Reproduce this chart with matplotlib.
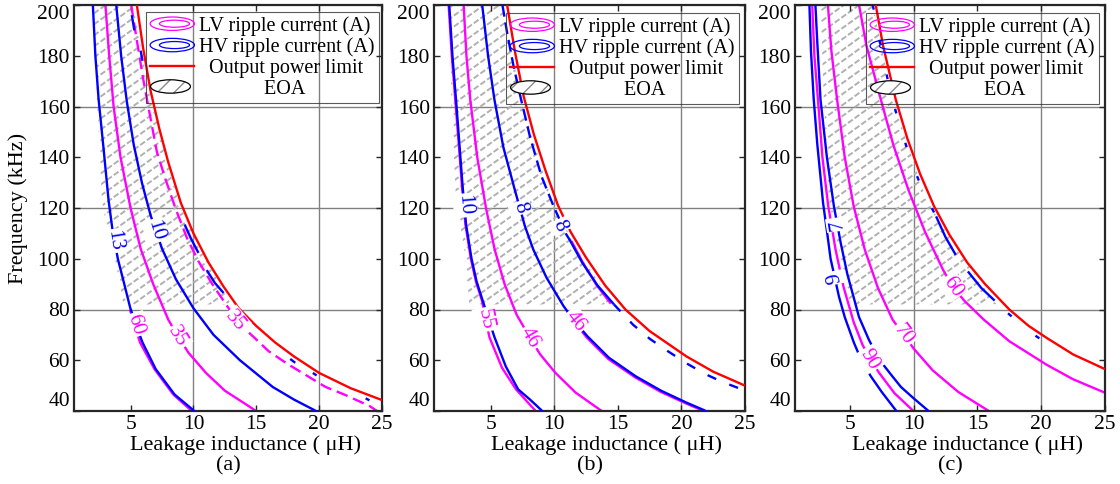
"""
Ripple-current contours vs leakage inductance / frequency, three designs.
"""

import numpy as np
import matplotlib
matplotlib.use("Agg")
import matplotlib.pyplot as plt
from matplotlib.patches import Ellipse, Polygon, Patch
from matplotlib.lines import Line2D
from matplotlib.legend_handler import HandlerBase
from matplotlib.collections import LineCollection

plt.rcParams["font.family"] = ["Liberation Serif", "DejaVu Serif"]

BLUE, MAGENTA, RED = "#0000ff", "#ff00ff", "#ff0000"
LW = 1.7
TICK_FS, LABEL_FS, LEG_FS, AXLAB_FS = 15.5, 15, 14.5, 16

# ---- panel (a) -------------------------------------------------
A_RED_L = [5.5, 6.0, 6.6, 7.3, 8.0, 9.0, 10.0, 11.2, 12.4, 13.6, 15.0, 16.5, 18.0, 20.0, 22.5, 25.0]
A_RED_F = [200, 183, 166, 151, 138, 122, 110, 98.5, 89, 80.5, 73.5, 67, 61.5, 55, 49, 44.3]
A_HV13_L = [2.0, 2.2, 2.46, 2.86, 3.25, 3.6, 4.0, 4.5, 4.97, 5.5, 5.95, 7.0, 8.5, 10.0, 10.1]
A_HV13_F = [200, 180, 162.7, 143, 123, 110, 99.7, 90, 80.7, 73, 67, 56.5, 46.5, 40.3, 39.5]
A_HV10_L = [3.86, 4.25, 4.7, 5.25, 5.9, 6.6, 7.5, 8.6, 10.0, 11.6, 13.7, 16.3, 18.0, 19.6, 19.9]
A_HV10_F = [200, 180, 162, 145, 130, 117, 104, 92, 80.5, 70, 60, 49.5, 44.5, 40.4, 39.5]
A_LV35_L = [3.0, 3.3, 3.65, 4.2, 5.0, 5.8, 6.8, 8.0, 8.8, 9.6, 11.0, 12.5, 14.9, 15.2]
A_LV35_F = [200, 180, 160, 140, 120, 104, 90, 76, 69.2, 63, 55, 48, 40.3, 39.5]
A_LV60_L = [4.95, 5.3, 5.75, 6.9, 8.4, 9.8, 9.9]
A_LV60_F = [80, 74, 67, 56.5, 46.5, 40.3, 39.5]
A_LV35E_L = [5.05, 5.5, 6.0, 6.6, 7.1, 7.8, 8.6, 9.5, 10.4, 11.5, 12.8, 13.4, 14.5, 16.0, 17.5, 19.0, 20.5, 22.0, 24.0, 24.6]
A_LV35E_F = [200, 186, 171, 155, 142, 131, 119.5, 108, 99, 90, 80.5, 76, 70.5, 63.5, 58.5, 54, 49.5, 46.5, 42, 40]
A_HVE_L = [[5.1, 5.3], [5.8, 5.95], [9.3, 9.8, 10.4], [11.06, 11.7, 12.4], [17.7, 18.1], [19.5, 19.8], [23.7, 24.0]]
A_HVE_F = [[196, 190], [182, 178], [113.5, 108, 102.3], [95.5, 90.5, 86.5], [60.5, 59], [55, 54], [45, 44.2]]
A_HATCH_F = [200, 162.7, 123, 110, 99.7, 82]
A_HATCH_LEFT = [2.1, 2.33, 2.72, 3.2, 3.78, 4.44]
A_HATCH_RIGHT = [5.2, 6.6, 8.8, 9.9, 11.0, 13.0]

# ---- panel (b) -------------------------------------------------
B_RED_L = [6.3, 6.9, 7.6, 8.4, 9.3, 10.3, 11.3, 12.5, 14.0, 15.6, 17.5, 20.4, 22.5, 25.0]
B_RED_F = [200, 182, 164, 149, 135, 121, 110.5, 100.5, 89.5, 80, 71.5, 61.5, 55.5, 50]
B_HV10_L = [1.75, 2.0, 2.28, 2.55, 2.8, 3.07, 3.5, 3.9, 4.39, 4.85, 5.32, 6.2, 7.17, 8.1, 9.0, 9.1]
B_HV10_F = [200, 180, 162.7, 145, 128.5, 113.5, 100, 91, 83.3, 76, 68.9, 57.5, 48.5, 44.5, 40.3, 39.5]
B_LV55_L = [1.7, 1.95, 2.22, 2.5, 2.75, 3.02, 3.45, 3.85, 4.33, 4.6, 4.92, 5.9, 7.0, 8.49, 8.6]
B_LV55_F = [200, 180, 162.7, 145, 128.5, 113.5, 100, 91, 83.3, 76, 68.9, 57, 48.5, 40.3, 39.5]
B_HV8_L = [4.34, 4.8, 5.3, 6.0, 6.9, 7.7, 8.36, 9.4, 10.74, 11.6, 12.6, 14.3, 16.4, 18.4, 20.4, 21.8, 22.0]
B_HV8_F = [200, 180, 162.7, 144, 127.2, 112.8, 103.6, 92.5, 81.3, 75.4, 69.5, 61, 53.7, 48, 43.3, 40.3, 39.7]
B_LV46B_L = [11.0, 11.6, 12.55, 14.25, 16.35, 18.35, 20.35, 21.7, 21.9]
B_LV46B_F = [79.0, 75.0, 69.0, 60.5, 53.3, 47.6, 43.0, 40.1, 39.5]
B_LV46_L = [2.88, 3.1, 3.4, 3.95, 4.66, 5.32, 6.1, 7.04, 8.1, 8.9, 10.1, 11.67, 13.65, 13.9]
B_LV46_F = [200, 180, 162.7, 140, 119.4, 103.6, 90, 78, 68.8, 62.3, 55, 47.3, 40.3, 39.6]
B_HVE_UP_L = [5.93, 6.3, 6.8, 7.4, 8.1, 9.0, 9.95, 10.6]
B_HVE_UP_F = [200, 189, 176, 162.7, 148, 132.5, 120.7, 113.5]
B_HVE_MID_L = [10.9, 11.27, 12.2, 13.4, 14.7]
B_HVE_MID_F = [110, 107, 98.5, 89.5, 82]
B_HVE_LOW_L = [14.7, 16.2, 17.5, 18.8, 20.5, 21.9, 23.2, 24.4, 25.0]
B_HVE_LOW_F = [82, 74, 68.5, 64, 58.5, 54.5, 51.5, 49.2, 48]
B_LVE_L = [11.35, 12.25, 13.35, 14.45]
B_LVE_F = [107, 98.5, 89.5, 82.3]
B_HATCH_F = [200, 162.7, 123, 103.6, 84, 82]
B_HATCH_LEFT = [1.85, 1.9, 2.28, 2.94, 3.3, 3.3]
B_HATCH_RIGHT = [6.0, 7.4, 9.8, 11.8, 14.4, 14.6]

# ---- panel (c) -------------------------------------------------
C_RED_L = [7.03, 7.6, 8.6, 9.5, 10.5, 11.6, 12.8, 14.2, 15.6, 17.5, 19.0, 20.4, 22.5, 25.0]
C_RED_F = [200, 184, 162.7, 147.5, 133.5, 120.7, 109.5, 98.5, 90, 80, 73.6, 68.9, 62.3, 56.5]
C_HV9_L = [1.83, 1.95, 2.17, 2.45, 2.9, 3.2, 3.49, 3.8, 4.14, 4.6, 5.32, 5.9, 6.64, 7.5, 8.6, 8.7]
C_HV9_F = [200, 182, 162.7, 145, 122, 111, 100, 93, 85.2, 77, 66.9, 60, 53.7, 47.5, 40.3, 39.6]
C_LV90_L = [2.05, 2.22, 2.5, 2.85, 3.3, 3.88, 4.5, 5.3, 6.0, 6.6, 7.3, 8.5, 9.92, 10.0]
C_LV90_F = [200, 180, 162.7, 140, 121, 103.6, 89, 75, 66, 60.5, 55, 47, 40.3, 39.6]
C_HV7_L = [2.3, 2.45, 2.7, 3.2, 3.75, 4.28, 4.8, 5.72, 6.5, 7.3, 8.2, 9.0, 10.0, 11.1, 11.2]
C_HV7_F = [200, 185, 162.7, 140, 120.7, 106.3, 94, 77, 68, 60.3, 54.5, 49.5, 45, 40.3, 39.7]
C_LV70_L = [3.28, 3.55, 4.0, 4.6, 5.3, 6.17, 7.2, 8.35, 9.2, 10.05, 11.5, 13.5, 15.8, 16.0]
C_LV70_F = [200, 182, 162.7, 140, 120.7, 103.6, 88.5, 76, 70.1, 64.3, 56, 47.5, 40.3, 39.7]
C_LV60_L = [5.72, 6.3, 7.43, 8.4, 9.6, 10.9, 12.3, 13.05, 14.0, 15.5, 17.5, 20.4, 22.5, 25.0]
C_LV60_F = [200, 184, 162.7, 145, 127, 110.5, 95.7, 89, 83.3, 76, 67.5, 58.3, 52.5, 47.2]
C_HVE_UP_L = [6.8, 7.2, 7.95, 8.6, 9.1, 9.5, 10.0, 10.7, 11.76]
C_HVE_UP_F = [200, 189, 171, 158, 150, 143, 136, 127, 116.7]
C_HVE_S1_L = [11.76, 12.5, 13.3]
C_HVE_S1_F = [116.7, 108.5, 101.5]
C_HVE_S2_L = [14.25, 15.3, 16.35]
C_HVE_S2_F = [95, 88.5, 83.5]
C_HVE_LOW_L = [17.4, 18.2, 19.6, 21.1]
C_HVE_LOW_F = [78.5, 75, 69.5, 64.5]
C_HATCH_F = [200, 162.7, 123.3, 103.6, 82]
C_HATCH_LEFT = [2.7, 2.96, 3.35, 4.14, 5.0]
C_HATCH_RIGHT = [6.8, 8.36, 11.0, 13.4, 16.5]

X_TICKS = [5, 10, 15, 20, 25]
Y_TICKS = [40, 60, 80, 100, 120, 140, 160, 180, 200]
X_GRID = [10, 20]
Y_GRID = [80, 120, 160]
PANEL_NAMES = ["(a)", "(b)", "(c)"]
LEGEND_LABELS = ["LV ripple current (A)", "HV ripple current (A)",
                 "  Output power limit", "             EOA"]

# layout in pixels of the 1120x484 canvas
W, H = 1120, 484
PANEL_PX = [(74, 382), (434, 745), (795, 1105)]
XMIN = [0.5, 0.55, 0.7]
TOP_PX, BOT_PX = 5, 411
LEG_OFF = [(3, 7), (6, 8), (6, 8)]

DASH = (0, (5, 2.5))
DOTS = (0, (2, 13))


class RingHandler(HandlerBase):
    """Legend icon: two nested ellipses (or a hatched one for the EOA)."""

    def __init__(self, color=None, hatched=False):
        super().__init__()
        self.color = color
        self.hatched = hatched

    def create_artists(self, legend, orig_handle, xdescent, ydescent,
                       width, height, fontsize, trans):
        cx = width / 2 - xdescent
        cy = height / 2 - ydescent
        if self.hatched:
            arts = [Ellipse((cx - 0.04 * width, cy), width * 0.9, height * 0.95,
                            facecolor="white", edgecolor="#8a8a8a", lw=0, hatch="//"),
                    Ellipse((cx - 0.04 * width, cy), width * 0.9, height * 0.95,
                            fill=False, edgecolor="black", lw=0.9)]
        else:
            arts = [Ellipse((cx, cy), width, height * 0.95, fill=False,
                            edgecolor=self.color, lw=0.9),
                    Ellipse((cx + 0.05 * width, cy), width * 0.68, height * 0.5,
                            fill=False, edgecolor=self.color, lw=0.9)]
        for a in arts:
            a.set_transform(trans)
        return arts


def curve(ax, xs, ys, color, ls="-", z=3):
    ax.plot(xs, ys, color=color, lw=LW, ls=ls, zorder=z,
            solid_capstyle="butt", dash_capstyle="butt")


def tangent_angle(ax, xs, ys, x0, y0):
    pts = ax.transData.transform(np.column_stack([xs, ys]))
    p0 = ax.transData.transform((x0, y0))
    i = int(np.argmin(np.hypot(*(pts - p0).T)))
    i0, i1 = max(i - 1, 0), min(i + 1, len(xs) - 1)
    dx, dy = pts[i1] - pts[i0]
    ang = np.degrees(np.arctan2(dy, dx))
    if ang > 90:
        ang -= 180
    elif ang <= -90:
        ang += 180
    return ang


def clabel(ax, text, x, y, color, xs, ys, flip=False):
    ang = tangent_angle(ax, xs, ys, x, y) + (180 if flip else 0)
    ax.text(x, y, text, color=color, fontsize=LABEL_FS, rotation=ang,
            rotation_mode="anchor", ha="center", va="center", zorder=6,
            bbox=dict(boxstyle="square,pad=0.08", fc="white", ec="none"))


def hatch_region(ax, left, right, fvals):
    verts = list(zip(left, fvals)) + list(zip(right[::-1], fvals[::-1]))
    poly = Polygon(verts, closed=True, fc="none", ec="none", transform=ax.transData)
    ax.add_patch(poly)
    bb = ax.get_window_extent()
    slope = 0.72 * bb.width / bb.height
    step = 11.0 / bb.height
    offs = np.arange(-slope - step, 1 + step, step)
    segs = [[(0, c), (1, c + slope)] for c in offs]
    lc = LineCollection(segs, transform=ax.transAxes, colors="#b0b0b0",
                        linewidths=1.4, linestyles=[(0, (3, 1.2))], zorder=1)
    ax.add_collection(lc, autolim=False)
    lc.set_clip_path(poly)


def style_axes(ax, k):
    ax.set_xlim(XMIN[k], 25)
    ax.set_ylim(40, 200)
    ax.set_xticks(X_TICKS)
    ax.set_yticks(Y_TICKS)
    ax.tick_params(direction="in", length=4, width=1, top=True, right=True,
                   labelsize=TICK_FS, pad=3, colors="#262626", labelcolor="black")
    for s in ax.spines.values():
        s.set_linewidth(1.6)
        s.set_color("#262626")
    for g in X_GRID:
        ax.axvline(g, color="#808080", lw=1.0, zorder=0.5)
    for g in Y_GRID:
        ax.axhline(g, color="#808080", lw=1.0, zorder=0.5)
    labs = ax.get_yticklabels()
    labs[0].set_va("bottom")
    labs[-1].set_va("top")
    w_px = PANEL_PX[k][1] - PANEL_PX[k][0]
    h_px = BOT_PX - TOP_PX
    ax.set_xlabel("Leakage inductance ( μH)", fontsize=AXLAB_FS)
    ax.xaxis.set_label_coords(0.5 + 17 / w_px, -34 / h_px)
    ax.xaxis.label.set_va("center")
    ax.text(0.5, -55 / h_px, PANEL_NAMES[k], transform=ax.transAxes,
            ha="center", va="center", fontsize=AXLAB_FS)

    handles = [Line2D([], [], color=MAGENTA), Line2D([], [], color=BLUE),
               Line2D([], [], color=RED, lw=LW), Patch()]
    hmap = {handles[0]: RingHandler(MAGENTA), handles[1]: RingHandler(BLUE),
            handles[3]: RingHandler(hatched=True)}
    dx, dy = LEG_OFF[k]
    leg = ax.legend(handles, LEGEND_LABELS, handler_map=hmap, loc="upper right",
                    bbox_to_anchor=(1 - dx / w_px, 1 - dy / h_px), borderaxespad=0,
                    fontsize=LEG_FS, handlelength=2.2, handleheight=0.7,
                    handletextpad=0.25, borderpad=0.2, labelspacing=0.08,
                    fancybox=False, edgecolor="#303030", facecolor="none")
    leg.get_frame().set_linewidth(0.8)
    leg.set_zorder(7)


fig = plt.figure(figsize=(W / 100, H / 100), dpi=100)
axes = []
for (l, r) in PANEL_PX:
    axes.append(fig.add_axes([l / W, 1 - BOT_PX / H, (r - l) / W, (BOT_PX - TOP_PX) / H]))
for k, ax in enumerate(axes):
    ax.set_xlim(XMIN[k], 25)
    ax.set_ylim(40, 200)

# (a)
ax = axes[0]
hatch_region(ax, A_HATCH_LEFT, A_HATCH_RIGHT, A_HATCH_F)
curve(ax, A_LV35_L, A_LV35_F, MAGENTA, z=2)
curve(ax, A_LV60_L, A_LV60_F, MAGENTA, z=2)
curve(ax, A_LV35E_L, A_LV35E_F, MAGENTA, ls=DASH, z=2)
curve(ax, A_HV13_L, A_HV13_F, BLUE)
curve(ax, A_HV10_L, A_HV10_F, BLUE)
for xs, ys in zip(A_HVE_L, A_HVE_F):
    curve(ax, xs, ys, BLUE)
curve(ax, A_RED_L, A_RED_F, RED, z=4)
clabel(ax, "13", 3.72, 107, BLUE, A_HV13_L, A_HV13_F)
clabel(ax, "10", 6.95, 111, BLUE, A_HV10_L, A_HV10_F)
clabel(ax, "60", 5.4, 74, MAGENTA, A_LV60_L, A_LV60_F)
clabel(ax, "35", 8.75, 69.2, MAGENTA, A_LV35_L, A_LV35_F)
clabel(ax, "35", 13.35, 75.5, MAGENTA, A_LV35E_L, A_LV35E_F)

# (b)
ax = axes[1]
hatch_region(ax, B_HATCH_LEFT, B_HATCH_RIGHT, B_HATCH_F)
curve(ax, B_LV55_L, B_LV55_F, MAGENTA, z=2)
curve(ax, B_LV46_L, B_LV46_F, MAGENTA, z=2)
curve(ax, B_LV46B_L, B_LV46B_F, MAGENTA, z=2)
curve(ax, B_LVE_L, B_LVE_F, MAGENTA, z=2)
curve(ax, B_HV10_L, B_HV10_F, BLUE)
curve(ax, B_HV8_L, B_HV8_F, BLUE)
curve(ax, B_HVE_UP_L, B_HVE_UP_F, BLUE, ls=DASH)
curve(ax, B_HVE_MID_L, B_HVE_MID_F, BLUE)
curve(ax, B_HVE_LOW_L, B_HVE_LOW_F, BLUE, ls=(0, (4, 6)))
curve(ax, B_RED_L, B_RED_F, RED, z=4)
clabel(ax, "10", 2.93, 121, BLUE, B_HV10_L, B_HV10_F)
clabel(ax, "8", 7.3, 120, BLUE, B_HV8_L, B_HV8_F)
clabel(ax, "8", 10.45, 113, BLUE, B_HVE_UP_L, B_HVE_UP_F)
clabel(ax, "55", 4.55, 76, MAGENTA, B_LV55_L, B_LV55_F)
clabel(ax, "46", 8.1, 68.8, MAGENTA, B_LV46_L, B_LV46_F)
clabel(ax, "46", 11.67, 75.4, MAGENTA, B_HV8_L, B_HV8_F)

# (c)
ax = axes[2]
hatch_region(ax, C_HATCH_LEFT, C_HATCH_RIGHT, C_HATCH_F)
curve(ax, C_LV90_L, C_LV90_F, MAGENTA, z=2)
curve(ax, C_LV70_L, C_LV70_F, MAGENTA, z=2)
curve(ax, C_LV60_L, C_LV60_F, MAGENTA, z=2)
curve(ax, C_HV9_L, C_HV9_F, BLUE)
curve(ax, C_HV7_L, C_HV7_F, BLUE)
curve(ax, C_HVE_UP_L, C_HVE_UP_F, BLUE, ls=DOTS)
curve(ax, C_HVE_S1_L, C_HVE_S1_F, BLUE)
curve(ax, C_HVE_S2_L, C_HVE_S2_F, BLUE)
curve(ax, C_HVE_LOW_L, C_HVE_LOW_F, BLUE, ls=DOTS)
curve(ax, C_RED_L, C_RED_F, RED, z=4)
clabel(ax, "9", 3.8, 92.5, BLUE, C_HV9_L, C_HV9_F, flip=True)
clabel(ax, "7", 4.0, 113.5, BLUE, C_HV7_L, C_HV7_F, flip=True)
clabel(ax, "90", 6.55, 60.3, MAGENTA, C_LV90_L, C_LV90_F)
clabel(ax, "70", 9.2, 70.1, MAGENTA, C_LV70_L, C_LV70_F)
clabel(ax, "60", 13.05, 89, MAGENTA, C_LV60_L, C_LV60_F)

for k, ax in enumerate(axes):
    style_axes(ax, k)

axes[0].set_ylabel("Frequency (kHz)", fontsize=AXLAB_FS)
axes[0].yaxis.set_label_coords((18 - 74) / 308, 0.5)
axes[0].yaxis.label.set_va("center")

fig.savefig("out.png", dpi=100)
